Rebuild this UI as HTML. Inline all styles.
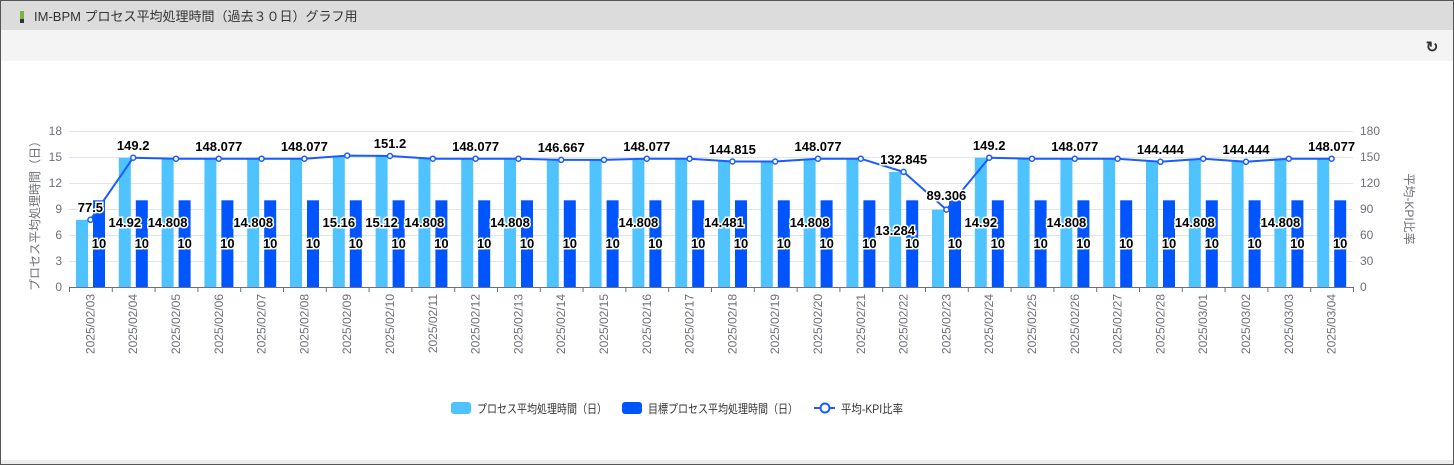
<!DOCTYPE html>
<html><head><meta charset="utf-8"><style>
html,body{margin:0;padding:0;width:1454px;height:465px;overflow:hidden;background:#fff}
svg{display:block;font-family:"Liberation Sans","Noto Sans CJK JP",sans-serif}
.r{font-weight:bold;font-size:13px;fill:#000;stroke:#fff;stroke-width:3px;paint-order:stroke;text-anchor:middle}
.d{font-size:12px;fill:#6e7079;text-anchor:end}
.ax{font-size:12px;fill:#6e7079}
</style></head><body>
<svg width="1454" height="465" viewBox="0 0 1454 465">
<rect x="0.5" y="0.5" width="1453" height="464" fill="#fff" stroke="#555"/>
<rect x="1" y="1" width="1452" height="29" fill="#dcdcdc"/>
<rect x="1" y="30" width="1452" height="31" fill="#f4f4f4"/>
<rect x="20" y="11" width="4" height="8" fill="#7cb342"/><rect x="20" y="19" width="4" height="4" fill="#333"/>
<text x="34" y="21" font-size="13" fill="#333">IM-BPM プロセス平均処理時間（過去３０日）グラフ用</text>
<text x="1432" y="52" font-size="15" font-weight="bold" fill="#333" text-anchor="middle">↻</text>
<rect x="1" y="460" width="1452" height="4" fill="#ececec"/>
<g stroke="#e0e6f1" stroke-width="1">
<line x1="69" x2="1353" y1="131.5" y2="131.5"/><line x1="69" x2="1353" y1="157.5" y2="157.5"/><line x1="69" x2="1353" y1="183.5" y2="183.5"/><line x1="69" x2="1353" y1="209.5" y2="209.5"/><line x1="69" x2="1353" y1="235.5" y2="235.5"/><line x1="69" x2="1353" y1="261.5" y2="261.5"/>
</g>
<g class="ax" text-anchor="end">
<text x="62" y="135">18</text><text x="62" y="161">15</text><text x="62" y="187">12</text><text x="62" y="213">9</text><text x="62" y="239">6</text><text x="62" y="265">3</text><text x="62" y="291">0</text>
</g>
<g class="ax">
<text x="1360" y="135">180</text><text x="1360" y="161">150</text><text x="1360" y="187">120</text><text x="1360" y="213">90</text><text x="1360" y="239">60</text><text x="1360" y="265">30</text><text x="1360" y="291">0</text>
</g>
<text class="ax" transform="translate(39,213) rotate(-90)" text-anchor="middle">プロセス平均処理時間（日）</text>
<text class="ax" transform="translate(1405,209) rotate(90)" text-anchor="middle">平均-KPI比率</text>
<g fill="#4fc3ff">
<rect x="76" y="219.8" width="12" height="67.2"/>
<rect x="118.8" y="157.7" width="12" height="129.3"/>
<rect x="161.6" y="158.7" width="12" height="128.3"/>
<rect x="204.4" y="158.7" width="12" height="128.3"/>
<rect x="247.2" y="158.7" width="12" height="128.3"/>
<rect x="290" y="158.7" width="12" height="128.3"/>
<rect x="332.8" y="155.6" width="12" height="131.4"/>
<rect x="375.6" y="156" width="12" height="131"/>
<rect x="418.4" y="158.7" width="12" height="128.3"/>
<rect x="461.2" y="158.7" width="12" height="128.3"/>
<rect x="504" y="158.7" width="12" height="128.3"/>
<rect x="546.8" y="159.9" width="12" height="127.1"/>
<rect x="589.6" y="159.9" width="12" height="127.1"/>
<rect x="632.4" y="158.7" width="12" height="128.3"/>
<rect x="675.2" y="158.7" width="12" height="128.3"/>
<rect x="718" y="161.5" width="12" height="125.5"/>
<rect x="760.8" y="161.5" width="12" height="125.5"/>
<rect x="803.6" y="158.7" width="12" height="128.3"/>
<rect x="846.4" y="158.7" width="12" height="128.3"/>
<rect x="889.2" y="171.9" width="12" height="115.1"/>
<rect x="932" y="209.6" width="12" height="77.4"/>
<rect x="974.8" y="157.7" width="12" height="129.3"/>
<rect x="1017.6" y="158.7" width="12" height="128.3"/>
<rect x="1060.4" y="158.7" width="12" height="128.3"/>
<rect x="1103.2" y="158.7" width="12" height="128.3"/>
<rect x="1146" y="161.8" width="12" height="125.2"/>
<rect x="1188.8" y="158.7" width="12" height="128.3"/>
<rect x="1231.6" y="161.8" width="12" height="125.2"/>
<rect x="1274.4" y="158.7" width="12" height="128.3"/>
<rect x="1317.2" y="158.7" width="12" height="128.3"/>
</g>
<g fill="#0055ff">
<rect x="93" y="200.3" width="12" height="86.7"/><rect x="135.8" y="200.3" width="12" height="86.7"/><rect x="178.6" y="200.3" width="12" height="86.7"/><rect x="221.4" y="200.3" width="12" height="86.7"/><rect x="264.2" y="200.3" width="12" height="86.7"/><rect x="307" y="200.3" width="12" height="86.7"/><rect x="349.8" y="200.3" width="12" height="86.7"/><rect x="392.6" y="200.3" width="12" height="86.7"/><rect x="435.4" y="200.3" width="12" height="86.7"/><rect x="478.2" y="200.3" width="12" height="86.7"/><rect x="521" y="200.3" width="12" height="86.7"/><rect x="563.8" y="200.3" width="12" height="86.7"/><rect x="606.6" y="200.3" width="12" height="86.7"/><rect x="649.4" y="200.3" width="12" height="86.7"/><rect x="692.2" y="200.3" width="12" height="86.7"/><rect x="735" y="200.3" width="12" height="86.7"/><rect x="777.8" y="200.3" width="12" height="86.7"/><rect x="820.6" y="200.3" width="12" height="86.7"/><rect x="863.4" y="200.3" width="12" height="86.7"/><rect x="906.2" y="200.3" width="12" height="86.7"/><rect x="949" y="200.3" width="12" height="86.7"/><rect x="991.8" y="200.3" width="12" height="86.7"/><rect x="1034.6" y="200.3" width="12" height="86.7"/><rect x="1077.4" y="200.3" width="12" height="86.7"/><rect x="1120.2" y="200.3" width="12" height="86.7"/><rect x="1163" y="200.3" width="12" height="86.7"/><rect x="1205.8" y="200.3" width="12" height="86.7"/><rect x="1248.6" y="200.3" width="12" height="86.7"/><rect x="1291.4" y="200.3" width="12" height="86.7"/><rect x="1334.2" y="200.3" width="12" height="86.7"/>
</g>
<line x1="69" x2="1353" y1="287.5" y2="287.5" stroke="#6e7079"/>
<g stroke="#6e7079">
<line x1="69.5" x2="69.5" y1="287" y2="292"/><line x1="112.3" x2="112.3" y1="287" y2="292"/><line x1="155.1" x2="155.1" y1="287" y2="292"/><line x1="197.9" x2="197.9" y1="287" y2="292"/><line x1="240.7" x2="240.7" y1="287" y2="292"/><line x1="283.5" x2="283.5" y1="287" y2="292"/><line x1="326.3" x2="326.3" y1="287" y2="292"/><line x1="369.1" x2="369.1" y1="287" y2="292"/><line x1="411.9" x2="411.9" y1="287" y2="292"/><line x1="454.7" x2="454.7" y1="287" y2="292"/><line x1="497.5" x2="497.5" y1="287" y2="292"/><line x1="540.3" x2="540.3" y1="287" y2="292"/><line x1="583.1" x2="583.1" y1="287" y2="292"/><line x1="625.9" x2="625.9" y1="287" y2="292"/><line x1="668.7" x2="668.7" y1="287" y2="292"/><line x1="711.5" x2="711.5" y1="287" y2="292"/><line x1="754.3" x2="754.3" y1="287" y2="292"/><line x1="797.1" x2="797.1" y1="287" y2="292"/><line x1="839.9" x2="839.9" y1="287" y2="292"/><line x1="882.7" x2="882.7" y1="287" y2="292"/><line x1="925.5" x2="925.5" y1="287" y2="292"/><line x1="968.3" x2="968.3" y1="287" y2="292"/><line x1="1011.1" x2="1011.1" y1="287" y2="292"/><line x1="1053.9" x2="1053.9" y1="287" y2="292"/><line x1="1096.7" x2="1096.7" y1="287" y2="292"/><line x1="1139.5" x2="1139.5" y1="287" y2="292"/><line x1="1182.3" x2="1182.3" y1="287" y2="292"/><line x1="1225.1" x2="1225.1" y1="287" y2="292"/><line x1="1267.9" x2="1267.9" y1="287" y2="292"/><line x1="1310.7" x2="1310.7" y1="287" y2="292"/><line x1="1353.5" x2="1353.5" y1="287" y2="292"/>
</g>
<g class="d">
<text transform="translate(94.4,294) rotate(-90)">2025/02/03</text>
<text transform="translate(137.2,294) rotate(-90)">2025/02/04</text>
<text transform="translate(180,294) rotate(-90)">2025/02/05</text>
<text transform="translate(222.8,294) rotate(-90)">2025/02/06</text>
<text transform="translate(265.6,294) rotate(-90)">2025/02/07</text>
<text transform="translate(308.4,294) rotate(-90)">2025/02/08</text>
<text transform="translate(351.2,294) rotate(-90)">2025/02/09</text>
<text transform="translate(394,294) rotate(-90)">2025/02/10</text>
<text transform="translate(436.8,294) rotate(-90)">2025/02/11</text>
<text transform="translate(479.6,294) rotate(-90)">2025/02/12</text>
<text transform="translate(522.4,294) rotate(-90)">2025/02/13</text>
<text transform="translate(565.2,294) rotate(-90)">2025/02/14</text>
<text transform="translate(608,294) rotate(-90)">2025/02/15</text>
<text transform="translate(650.8,294) rotate(-90)">2025/02/16</text>
<text transform="translate(693.6,294) rotate(-90)">2025/02/17</text>
<text transform="translate(736.4,294) rotate(-90)">2025/02/18</text>
<text transform="translate(779.2,294) rotate(-90)">2025/02/19</text>
<text transform="translate(822,294) rotate(-90)">2025/02/20</text>
<text transform="translate(864.8,294) rotate(-90)">2025/02/21</text>
<text transform="translate(907.6,294) rotate(-90)">2025/02/22</text>
<text transform="translate(950.4,294) rotate(-90)">2025/02/23</text>
<text transform="translate(993.2,294) rotate(-90)">2025/02/24</text>
<text transform="translate(1036,294) rotate(-90)">2025/02/25</text>
<text transform="translate(1078.8,294) rotate(-90)">2025/02/26</text>
<text transform="translate(1121.6,294) rotate(-90)">2025/02/27</text>
<text transform="translate(1164.4,294) rotate(-90)">2025/02/28</text>
<text transform="translate(1207.2,294) rotate(-90)">2025/03/01</text>
<text transform="translate(1250,294) rotate(-90)">2025/03/02</text>
<text transform="translate(1292.8,294) rotate(-90)">2025/03/03</text>
<text transform="translate(1335.6,294) rotate(-90)">2025/03/04</text>
</g>
<polyline fill="none" stroke="#1a5cff" stroke-width="2" points="90.4,219.8 133.2,157.7 176,158.7 218.8,158.7 261.6,158.7 304.4,158.7 347.2,155.6 390,156 432.8,158.7 475.6,158.7 518.4,158.7 561.2,159.9 604,159.9 646.8,158.7 689.6,158.7 732.4,161.5 775.2,161.5 818,158.7 860.8,158.7 903.6,171.9 946.4,209.6 989.2,157.7 1032,158.7 1074.8,158.7 1117.6,158.7 1160.4,161.8 1203.2,158.7 1246,161.8 1288.8,158.7 1331.6,158.7"/>
<g fill="#fff" stroke="#1a5cff" stroke-width="1.5">
<circle cx="90.4" cy="219.8" r="2.5"/><circle cx="133.2" cy="157.7" r="2.5"/><circle cx="176" cy="158.7" r="2.5"/><circle cx="218.8" cy="158.7" r="2.5"/><circle cx="261.6" cy="158.7" r="2.5"/><circle cx="304.4" cy="158.7" r="2.5"/><circle cx="347.2" cy="155.6" r="2.5"/><circle cx="390" cy="156" r="2.5"/><circle cx="432.8" cy="158.7" r="2.5"/><circle cx="475.6" cy="158.7" r="2.5"/><circle cx="518.4" cy="158.7" r="2.5"/><circle cx="561.2" cy="159.9" r="2.5"/><circle cx="604" cy="159.9" r="2.5"/><circle cx="646.8" cy="158.7" r="2.5"/><circle cx="689.6" cy="158.7" r="2.5"/><circle cx="732.4" cy="161.5" r="2.5"/><circle cx="775.2" cy="161.5" r="2.5"/><circle cx="818" cy="158.7" r="2.5"/><circle cx="860.8" cy="158.7" r="2.5"/><circle cx="903.6" cy="171.9" r="2.5"/><circle cx="946.4" cy="209.6" r="2.5"/><circle cx="989.2" cy="157.7" r="2.5"/><circle cx="1032" cy="158.7" r="2.5"/><circle cx="1074.8" cy="158.7" r="2.5"/><circle cx="1117.6" cy="158.7" r="2.5"/><circle cx="1160.4" cy="161.8" r="2.5"/><circle cx="1203.2" cy="158.7" r="2.5"/><circle cx="1246" cy="161.8" r="2.5"/><circle cx="1288.8" cy="158.7" r="2.5"/><circle cx="1331.6" cy="158.7" r="2.5"/>
</g>
<g class="r">
<text x="90.4" y="212">77.5</text><text x="133.2" y="150">149.2</text><text x="218.8" y="151">148.077</text><text x="304.4" y="151">148.077</text><text x="390" y="148">151.2</text><text x="475.6" y="151">148.077</text><text x="561.2" y="152">146.667</text><text x="646.8" y="151">148.077</text><text x="732.4" y="154">144.815</text><text x="818" y="151">148.077</text><text x="903.6" y="164">132.845</text><text x="946.4" y="200">89.306</text><text x="989.2" y="150">149.2</text><text x="1074.8" y="151">148.077</text><text x="1160.4" y="154">144.444</text><text x="1246" y="154">144.444</text><text x="1331.6" y="151">148.077</text>
</g>
<g class="r">
<text x="124.8" y="227">14.92</text><text x="167.6" y="227">14.808</text><text x="253.2" y="227">14.808</text><text x="338.8" y="227">15.16</text><text x="381.6" y="227">15.12</text><text x="424.4" y="227">14.808</text><text x="510" y="227">14.808</text><text x="638.4" y="227">14.808</text><text x="724" y="227">14.481</text><text x="809.6" y="227">14.808</text><text x="895.2" y="235">13.284</text><text x="980.8" y="227">14.92</text><text x="1066.4" y="227">14.808</text><text x="1194.8" y="227">14.808</text><text x="1280.4" y="227">14.808</text>
</g>
<g class="r">
<text x="99" y="248">10</text><text x="141.8" y="248">10</text><text x="184.6" y="248">10</text><text x="227.4" y="248">10</text><text x="270.2" y="248">10</text><text x="313" y="248">10</text><text x="355.8" y="248">10</text><text x="398.6" y="248">10</text><text x="441.4" y="248">10</text><text x="484.2" y="248">10</text><text x="527" y="248">10</text><text x="569.8" y="248">10</text><text x="612.6" y="248">10</text><text x="655.4" y="248">10</text><text x="698.2" y="248">10</text><text x="741" y="248">10</text><text x="783.8" y="248">10</text><text x="826.6" y="248">10</text><text x="869.4" y="248">10</text><text x="912.2" y="248">10</text><text x="955" y="248">10</text><text x="997.8" y="248">10</text><text x="1040.6" y="248">10</text><text x="1083.4" y="248">10</text><text x="1126.2" y="248">10</text><text x="1169" y="248">10</text><text x="1211.8" y="248">10</text><text x="1254.6" y="248">10</text><text x="1297.4" y="248">10</text><text x="1340.2" y="248">10</text>
</g>
<rect x="451" y="402" width="20" height="12" rx="3" fill="#4fc3ff"/>
<text x="477" y="413" font-size="12" fill="#333" textLength="130" lengthAdjust="spacingAndGlyphs">プロセス平均処理時間（日）</text>
<rect x="622" y="402" width="20" height="12" rx="3" fill="#0055ff"/>
<text x="648" y="413" font-size="12" fill="#333" textLength="150" lengthAdjust="spacingAndGlyphs">目標プロセス平均処理時間（日）</text>
<line x1="814" x2="835" y1="408" y2="408" stroke="#1a5cff" stroke-width="2"/>
<circle cx="825" cy="408" r="4.5" fill="#fff" stroke="#1a5cff" stroke-width="2"/>
<text x="841" y="413" font-size="12" fill="#333" textLength="62" lengthAdjust="spacingAndGlyphs">平均-KPI比率</text>
</svg>
</body></html>
